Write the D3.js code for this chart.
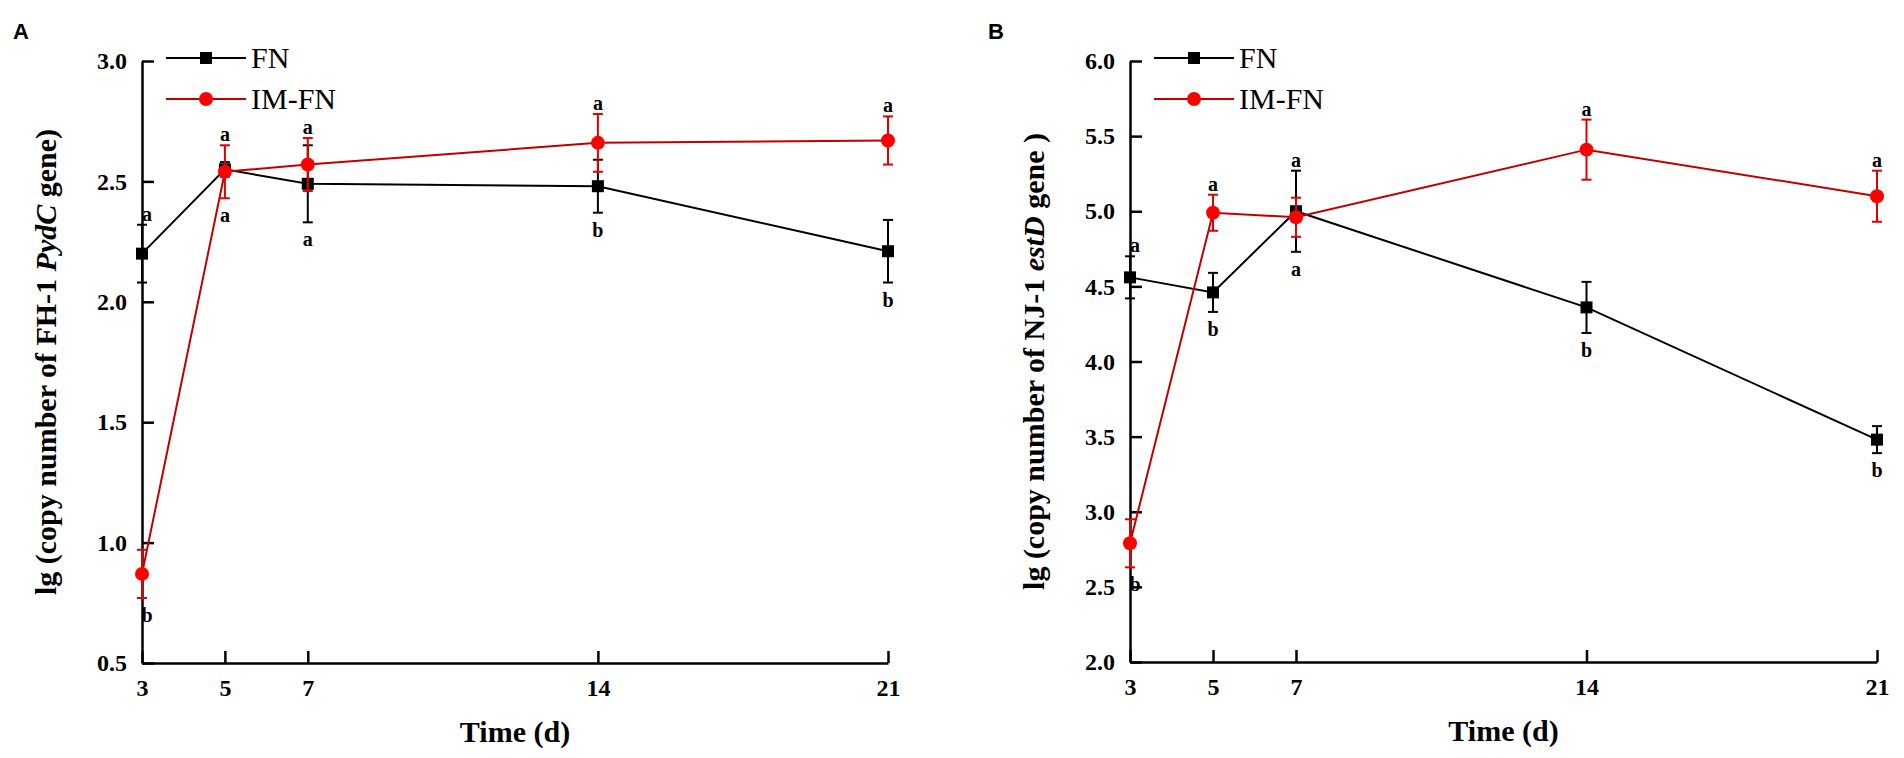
<!DOCTYPE html>
<html>
<head>
<meta charset="utf-8">
<script src="https://cdn.jsdelivr.net/npm/d3@7"></script>
<style>
  html, body { margin: 0; padding: 0; background: #fff; }
  svg { display: block; }
  .serif { font-family: "Liberation Serif", "Times New Roman", serif; }
</style>
</head>
<body>
<svg id="chart" width="1904" height="758"></svg>
<script>
// sampling days
const days = [3, 5, 7, 14, 21]

// panel A: FH-1 PydC gene
const fnA = [2.20, 2.55, 2.49, 2.48, 2.21]
const fnA_err = [0.12, 0.03, 0.16, 0.11, 0.13]
const imA = [0.87, 2.54, 2.57, 2.66, 2.67]
const imA_err = [0.10, 0.11, 0.11, 0.12, 0.10]
const lettersA_top = ["a", "a", "a", "a", "a"]
const lettersA_bottom = ["b", "a", "a", "b", "b"]
const yTicksA = [0.5, 1.0, 1.5, 2.0, 2.5, 3.0]

// panel B: NJ-1 estD gene
const fnB = [4.56, 4.46, 5.00, 4.36, 3.48]
const fnB_err = [0.14, 0.13, 0.27, 0.17, 0.09]
const imB = [2.79, 4.99, 4.96, 5.41, 5.10]
const imB_err = [0.16, 0.12, 0.13, 0.20, 0.17]
const lettersB_top = ["a", "a", "a", "a", "a"]
const lettersB_bottom = ["b", "b", "a", "b", "b"]
const yTicksB = [2.0, 2.5, 3.0, 3.5, 4.0, 4.5, 5.0, 5.5, 6.0]

const seriesNames = ["FN", "IM-FN"]

const svg = d3.select("#chart")

function drawPanel(opt) {
  const { left, right, top, bottom } = opt
  const g = svg.append("g")

  const x = d3.scaleLinear().domain([3, 21]).range([left, right])
  const y = d3.scaleLinear().domain(d3.extent(opt.yTicks)).range([bottom, top])

  // axes, ticks pointing inward
  const xAxis = d3.axisBottom(x).tickValues(days).tickFormat(d3.format("d"))
    .tickSizeInner(-12).tickSizeOuter(0).tickPadding(16)
  const yAxis = d3.axisLeft(y).tickValues(opt.yTicks).tickFormat(d3.format(".1f"))
    .tickSizeInner(-12).tickSizeOuter(0).tickPadding(15)

  const gx = g.append("g").attr("transform", `translate(0,${bottom})`).call(xAxis)
  const gy = g.append("g").attr("transform", `translate(${left},0)`).call(yAxis)
  ;[gx, gy].forEach((a) => {
    a.selectAll("path, line").attr("stroke", "#000").attr("stroke-width", 2.5)
    a.selectAll("text").attr("class", "serif").attr("font-size", 24)
      .attr("font-weight", "bold").attr("fill", "#000")
  })

  // axis titles
  g.append("text").attr("class", "serif")
    .attr("x", (left + right) / 2).attr("y", bottom + 79)
    .attr("text-anchor", "middle").attr("font-size", 30).attr("font-weight", "bold")
    .text("Time (d)")

  const yt = g.append("text").attr("class", "serif")
    .attr("transform", `translate(${left - 86},${(top + bottom) / 2}) rotate(-90)`)
    .attr("text-anchor", "middle").attr("font-size", 30).attr("font-weight", "bold")
  yt.append("tspan").text(opt.titleStart)
  yt.append("tspan").attr("font-style", "italic").text(opt.titleGene)
  yt.append("tspan").text(opt.titleEnd)

  // panel letter
  g.append("text").attr("x", opt.labelX).attr("y", 39)
    .attr("font-family", "Liberation Sans, Arial, sans-serif")
    .attr("font-size", 22).attr("font-weight", "bold").text(opt.label)

  const series = [
    { name: "FN", vals: opt.fn, err: opt.fnErr, line: "#000", fill: "#000", bar: "#000", shape: "square" },
    { name: "IM-FN", vals: opt.im, err: opt.imErr, line: "#c00000", fill: "#ff0000", bar: "#e00000", shape: "circle" }
  ]

  const line = d3.line().x((d) => x(d.day)).y((d) => y(d.v))

  series.forEach((s) => {
    const pts = days.map((day, i) => ({ day, v: s.vals[i], e: s.err[i] }))
    const sg = g.append("g")

    sg.append("path").datum(pts).attr("d", line)
      .attr("fill", "none").attr("stroke", s.line).attr("stroke-width", 2)

    const eb = sg.selectAll(".eb").data(pts).enter().append("g").attr("class", "eb")
      .attr("stroke", s.bar).attr("stroke-width", 2)
    eb.append("line")
      .attr("x1", (d) => x(d.day)).attr("x2", (d) => x(d.day))
      .attr("y1", (d) => y(d.v + d.e)).attr("y2", (d) => y(d.v - d.e))
    eb.append("line")
      .attr("x1", (d) => x(d.day) - 5).attr("x2", (d) => x(d.day) + 5)
      .attr("y1", (d) => y(d.v + d.e)).attr("y2", (d) => y(d.v + d.e))
    eb.append("line")
      .attr("x1", (d) => x(d.day) - 5).attr("x2", (d) => x(d.day) + 5)
      .attr("y1", (d) => y(d.v - d.e)).attr("y2", (d) => y(d.v - d.e))

    if (s.shape === "square") {
      sg.selectAll(".mk").data(pts).enter().append("rect").attr("class", "mk")
        .attr("x", (d) => x(d.day) - 6).attr("y", (d) => y(d.v) - 6)
        .attr("width", 12).attr("height", 12).attr("fill", s.fill)
    } else {
      sg.selectAll(".mk").data(pts).enter().append("circle").attr("class", "mk")
        .attr("cx", (d) => x(d.day)).attr("cy", (d) => y(d.v))
        .attr("r", 7).attr("fill", s.fill)
    }
  })

  // significance letters above highest and below lowest error bar
  days.forEach((day, i) => {
    const hi = Math.max(opt.fn[i] + opt.fnErr[i], opt.im[i] + opt.imErr[i])
    const lo = Math.min(opt.fn[i] - opt.fnErr[i], opt.im[i] - opt.imErr[i])
    const dx = day === 3 ? 5 : 0
    g.append("text").attr("class", "serif").attr("font-size", 20).attr("font-weight", "bold")
      .attr("text-anchor", "middle").attr("x", x(day) + dx).attr("y", y(hi) - 4)
      .text(opt.lettersTop[i])
    g.append("text").attr("class", "serif").attr("font-size", 20).attr("font-weight", "bold")
      .attr("text-anchor", "middle").attr("x", x(day) + dx).attr("y", y(lo) + 24)
      .text(opt.lettersBottom[i])
  })

  // legend
  const lg = g.append("g")
  series.forEach((s, i) => {
    const ly = 58 + i * 41
    lg.append("line").attr("x1", left + 24).attr("x2", left + 104)
      .attr("y1", ly).attr("y2", ly).attr("stroke", s.line).attr("stroke-width", 2)
    if (s.shape === "square") {
      lg.append("rect").attr("x", left + 58).attr("y", ly - 6).attr("width", 12).attr("height", 12).attr("fill", s.fill)
    } else {
      lg.append("circle").attr("cx", left + 64).attr("cy", ly).attr("r", 7).attr("fill", s.fill)
    }
    lg.append("text").attr("class", "serif").attr("x", left + 109).attr("y", ly + 10)
      .attr("font-size", 30).text(seriesNames[i])
  })
}

drawPanel({
  left: 142, right: 888, top: 61, bottom: 663,
  yTicks: yTicksA, fn: fnA, fnErr: fnA_err, im: imA, imErr: imA_err,
  lettersTop: lettersA_top, lettersBottom: lettersA_bottom,
  titleStart: "lg (copy number of FH-1 ", titleGene: "PydC", titleEnd: " gene)",
  label: "A", labelX: 13
})

drawPanel({
  left: 1130, right: 1877, top: 61, bottom: 662,
  yTicks: yTicksB, fn: fnB, fnErr: fnB_err, im: imB, imErr: imB_err,
  lettersTop: lettersB_top, lettersBottom: lettersB_bottom,
  titleStart: "lg (copy number of NJ-1 ", titleGene: "estD", titleEnd: " gene )",
  label: "B", labelX: 988
})
</script>
</body>
</html>
